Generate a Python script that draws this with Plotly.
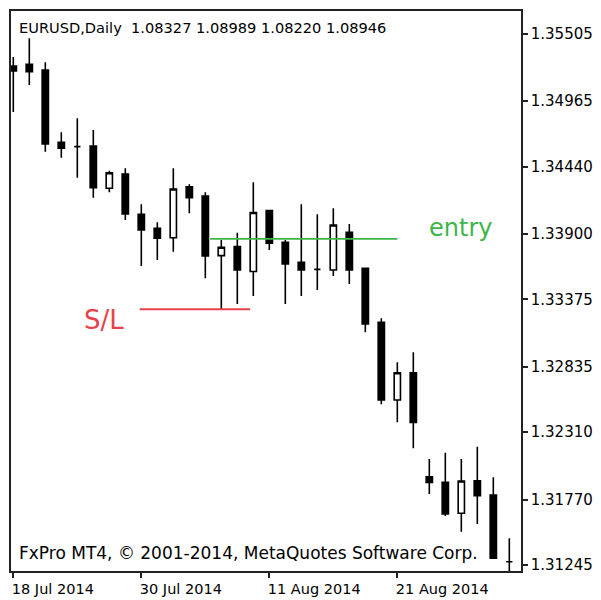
import plotly.graph_objects as go

# EURUSD daily bars, 18 Jul 2014 - 01 Sep 2014
dates = [
    "2014-07-18", "2014-07-21", "2014-07-22", "2014-07-23", "2014-07-24",
    "2014-07-25", "2014-07-28", "2014-07-29", "2014-07-30", "2014-07-31",
    "2014-08-01", "2014-08-04", "2014-08-05", "2014-08-06", "2014-08-07",
    "2014-08-08", "2014-08-11", "2014-08-12", "2014-08-13", "2014-08-14",
    "2014-08-15", "2014-08-18", "2014-08-19", "2014-08-20", "2014-08-21",
    "2014-08-22", "2014-08-25", "2014-08-26", "2014-08-27", "2014-08-28",
    "2014-08-29", "2014-09-01",
]
opens = [
    1.35247, 1.35261, 1.35215, 1.34635, 1.34600, 1.34605, 1.34266, 1.34381,
    1.34058, 1.33945, 1.33870, 1.34279, 1.34204, 1.33726, 1.33798, 1.33599,
    1.34087, 1.33833, 1.33673, 1.33616, 1.33611, 1.33913, 1.33625, 1.33191,
    1.32568, 1.32787, 1.31953, 1.31908, 1.31660, 1.31921, 1.31806, 1.31271,
]
highs = [
    1.35319, 1.35469, 1.35277, 1.34715, 1.34828, 1.34734, 1.34407, 1.34426,
    1.34138, 1.33993, 1.34426, 1.34298, 1.34234, 1.33852, 1.33910, 1.34314,
    1.34087, 1.33852, 1.34138, 1.34058, 1.34106, 1.33980, 1.33630, 1.33224,
    1.32871, 1.32951, 1.32095, 1.32146, 1.32095, 1.32194, 1.31948, 1.31459,
]
lows = [
    1.34878, 1.35095, 1.34560, 1.34512, 1.34351, 1.34191, 1.34234, 1.34012,
    1.33643, 1.33691, 1.33758, 1.34066, 1.33544, 1.33298, 1.33338, 1.33402,
    1.33771, 1.33338, 1.33402, 1.33450, 1.33563, 1.33499, 1.33111, 1.32534,
    1.32389, 1.32181, 1.31814, 1.31638, 1.31512, 1.31574, 1.31295, 1.31197,
]
closes = [
    1.35207, 1.35201, 1.34621, 1.34587, 1.34600, 1.34271, 1.34391, 1.34060,
    1.33932, 1.33865, 1.34260, 1.34191, 1.33723, 1.33793, 1.33611, 1.34072,
    1.33825, 1.33659, 1.33611, 1.33616, 1.33972, 1.33611, 1.33178, 1.32568,
    1.32787, 1.32389, 1.31908, 1.31654, 1.31919, 1.31801, 1.31299, 1.31271,
]

time_tick_dates = ["2014-07-18", "2014-07-30", "2014-08-11", "2014-08-21"]
time_tick_text = ["18 Jul 2014", "30 Jul 2014", "11 Aug 2014", "21 Aug 2014"]
price_ticks = [1.35505, 1.34965, 1.34440, 1.33900, 1.33375,
               1.32835, 1.32310, 1.31770, 1.31245]

# trade levels and the bar spans they are drawn over
entry_price = 1.33860
entry_span = (12.3, 24.0)
stop_loss = 1.33296
stop_span = (7.9, 14.8)

FONT = "DejaVu Sans"
GREEN = "#3cb54a"
RED = "#e8404a"
FRAME = "#222222"

fig = go.Figure()
fig.add_trace(go.Candlestick(
    x=dates, open=opens, high=highs, low=lows, close=closes,
    increasing=dict(fillcolor="white", line=dict(color="black", width=1.6)),
    decreasing=dict(fillcolor="black", line=dict(color="black", width=1.6)),
    whiskerwidth=0,
    hoverinfo="x+y",
))

fig.add_shape(type="line", xref="x", yref="y",
              x0=entry_span[0], x1=entry_span[1], y0=entry_price, y1=entry_price,
              line=dict(color=GREEN, width=1.8))
fig.add_shape(type="line", xref="x", yref="y",
              x0=stop_span[0], x1=stop_span[1], y0=stop_loss, y1=stop_loss,
              line=dict(color=RED, width=1.8))

fig.add_annotation(x=25.85, y=1.33948, xref="x", yref="y", text="entry",
                   showarrow=False, xanchor="left", yanchor="middle",
                   font=dict(family=FONT, size=24, color=GREEN))
fig.add_annotation(x=4.3, y=1.33210, xref="x", yref="y", text="S/L",
                   showarrow=False, xanchor="left", yanchor="middle",
                   font=dict(family=FONT, size=26, color=RED))

fig.add_annotation(x=0.0118, y=0.971, xref="paper", yref="paper",
                   text="EURUSD,Daily  1.08327 1.08989 1.08220 1.08946",
                   showarrow=False, xanchor="left", yanchor="middle",
                   font=dict(family=FONT, size=14.6, color="black"))
fig.add_annotation(x=0.0118, y=0.033, xref="paper", yref="paper",
                   text="FxPro MT4, © 2001-2014, MetaQuotes Software Corp.",
                   showarrow=False, xanchor="left", yanchor="middle",
                   font=dict(family=FONT, size=17, color="black"))

fig.update_layout(
    width=601, height=600,
    margin=dict(l=11, r=80, t=11, b=29, autoexpand=False),
    paper_bgcolor="white", plot_bgcolor="white",
    showlegend=False,
    boxgap=0.44,
    font=dict(family=FONT, size=14, color="black"),
)
fig.update_xaxes(
    type="category",
    range=[-0.144, 31.73],
    tickvals=time_tick_dates, ticktext=time_tick_text,
    ticks="outside", ticklen=5, tickcolor=FRAME, tickwidth=1.5,
    ticklabelposition="outside right",
    ticklabelstandoff=4, ticklabelshift=-3,
    tickfont=dict(family=FONT, size=14.5, color="black"),
    showgrid=False, zeroline=False, automargin=False,
    showline=True, mirror=True, linecolor=FRAME, linewidth=1.5,
    rangeslider=dict(visible=False),
)
fig.update_yaxes(
    range=[1.31197, 1.35688],
    side="right",
    tickvals=price_ticks, ticktext=[f"{v:.5f}" for v in price_ticks],
    ticks="outside", ticklen=5, tickcolor=FRAME, tickwidth=1.5,
    tickfont=dict(family=FONT, size=15, color="black"),
    showgrid=False, zeroline=False, automargin=False,
    showline=True, mirror=True, linecolor=FRAME, linewidth=1.5,
)

fig.write_html("out.html")
